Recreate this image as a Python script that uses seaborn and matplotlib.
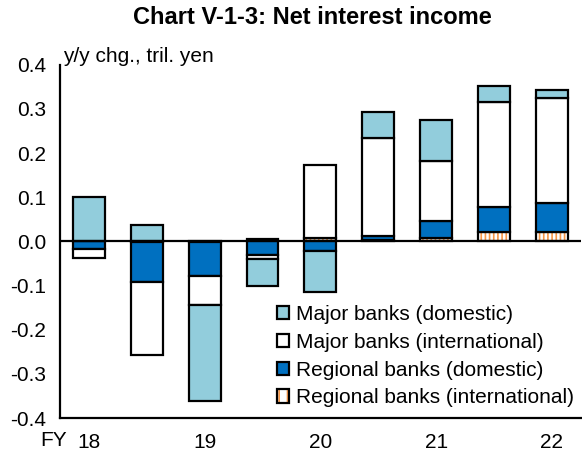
import matplotlib
matplotlib.use('Agg')
import matplotlib.pyplot as plt
from matplotlib.patches import Patch
import numpy as np
import pandas as pd
import seaborn as sns

sns.set_theme(style='white')
plt.rcParams['font.family'] = ['Liberation Sans', 'DejaVu Sans']
plt.rcParams['text.color'] = 'black'
plt.rcParams['xtick.color'] = 'black'
plt.rcParams['ytick.color'] = 'black'
plt.rcParams['hatch.linewidth'] = 1.2

periods = ['18H1', '18H2', '19H1', '19H2', '20H1', '20H2', '21H1', '21H2', '22H1']
year_labels = ['18', '19', '20', '21', '22']
ytick_vals = [-0.4, -0.3, -0.2, -0.1, 0.0, 0.1, 0.2, 0.3, 0.4]

major_dom = [0.100, 0.037, -0.219, -0.060, -0.093, 0.059, 0.091, 0.037, 0.019]
major_intl = [-0.020, -0.165, -0.065, -0.010, 0.166, 0.222, 0.137, 0.237, 0.237]
regional_dom = [-0.017, -0.091, -0.076, -0.030, -0.021, 0.010, 0.038, 0.056, 0.065]
regional_intl = [0.0, -0.002, -0.002, 0.005, 0.008, 0.003, 0.008, 0.022, 0.022]

series_names = ['Major banks (domestic)', 'Major banks (international)',
                'Regional banks (domestic)', 'Regional banks (international)']
colors = {'Major banks (domestic)': '#92CDDC',
          'Major banks (international)': '#FFFFFF',
          'Regional banks (domestic)': '#0070C0',
          'Regional banks (international)': '#FFFFFF'}
hatch_color = '#F79646'

df = pd.DataFrame({
    'period': periods,
    'Major banks (domestic)': major_dom,
    'Major banks (international)': major_intl,
    'Regional banks (domestic)': regional_dom,
    'Regional banks (international)': regional_intl,
})

fig, ax = plt.subplots(figsize=(5.82, 4.62), dpi=100)
fig.subplots_adjust(left=0.103, right=0.998, top=0.860, bottom=0.095)

# stack from zero outward: regional intl, regional dom, major intl, major dom
stack_order = series_names[::-1]
pos_base = np.zeros(len(periods))
neg_base = np.zeros(len(periods))
for name in stack_order:
    vals = df[name].to_numpy()
    bottoms = np.where(vals >= 0, pos_base, neg_base)
    hatched = name == 'Regional banks (international)'
    if hatched:
        sns.barplot(x=df['period'], y=vals, bottom=bottoms, ax=ax, width=0.55,
                    color='white', edgecolor=hatch_color, linewidth=0,
                    hatch='||||', saturation=1, order=periods)
    sns.barplot(x=df['period'], y=vals, bottom=bottoms, ax=ax, width=0.55,
                color=colors[name], edgecolor='black', linewidth=1.6,
                saturation=1, order=periods, fill=not hatched)
    pos_base = pos_base + np.where(vals >= 0, vals, 0)
    neg_base = neg_base + np.where(vals < 0, vals, 0)

ax.axhline(0, color='black', lw=1.6, zorder=5)

ax.set_xlim(-0.5, len(periods) - 0.5)
ax.set_ylim(-0.4, 0.4)
ax.set_yticks(ytick_vals)
ax.set_yticklabels([f'{v:.1f}' for v in ytick_vals])
ax.set_xticks(range(0, len(periods), 2))
ax.set_xticklabels(year_labels)
ax.set_xticks(np.arange(-0.5, len(periods) - 1, 2), minor=True)
ax.tick_params(axis='x', which='major', length=0, labelsize=15, pad=11)
ax.tick_params(axis='x', which='minor', length=6, width=1.6, direction='out', color='black')
ax.tick_params(axis='y', length=7, width=1.6, direction='out', color='black', labelsize=15, pad=3)
ax.set_xlabel('')
ax.set_ylabel('')

for side in ['top', 'right']:
    ax.spines[side].set_visible(False)
for side in ['left', 'bottom']:
    ax.spines[side].set_color('black')
    ax.spines[side].set_linewidth(1.6)

fig.text(312 / 582, 1 - 18 / 462, 'Chart V-1-3: Net interest income',
         ha='center', va='center', fontsize=17, fontweight='bold')
fig.text(63 / 582, 1 - 56 / 462, 'y/y chg., tril. yen', ha='left', va='center', fontsize=15)
fig.text(40 / 582, 1 - 440 / 462, 'FY', ha='left', va='center', fontsize=15)

handles = [
    Patch(facecolor=colors['Major banks (domestic)'], edgecolor='black', lw=1.6),
    Patch(facecolor='white', edgecolor='black', lw=1.6),
    Patch(facecolor=colors['Regional banks (domestic)'], edgecolor='black', lw=1.6),
    (Patch(facecolor='white', edgecolor=hatch_color, hatch='||', lw=0),
     Patch(facecolor='none', edgecolor='black', lw=1.6)),
]
ax.legend(handles, series_names, loc='lower right', bbox_to_anchor=(1.01, -0.005),
          frameon=False, fontsize=15, handlelength=0.6, handleheight=0.6,
          handletextpad=0.3, labelspacing=0.42, borderaxespad=0.2)

fig.savefig('out.png', dpi=100)
